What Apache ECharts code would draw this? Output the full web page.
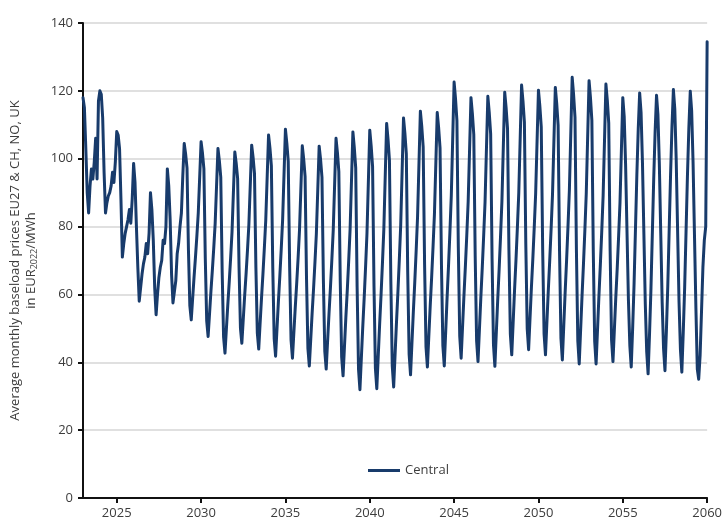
<!DOCTYPE html>
<html>
<head>
<meta charset="utf-8">
<script src="https://cdn.jsdelivr.net/npm/echarts@6/dist/echarts.min.js"></script>
<style>
  html, body { margin: 0; padding: 0; background: #fff; }
  #chart { width: 725px; height: 520px; }
</style>
</head>
<body>
<div id="chart"></div>
<script>
// Monthly series start (January of this year), one value per month
const startYear = 2023;
const seriesName = 'Central';
const central = [
  118, 115, 103, 90, 84, 92, 97, 94, 99, 106, 94, 117,            // 2023
  120, 119, 112, 96, 84, 87, 89, 90, 92, 96, 93, 99,              // 2024
  108, 107, 103, 88, 71, 75, 78, 80, 82, 85, 81, 88,              // 2025
  98.6, 93, 80, 68, 58, 62, 66, 69, 71, 75, 72, 78,               // 2026
  90, 85, 76, 62, 54, 60, 65, 68, 70, 76, 75, 80,                 // 2027
  97, 92, 82, 66, 57.5, 57, 64, 72, 75, 80, 84, 95,               // 2028
  104.5, 101.4, 97.2, 73.3, 56.7, 52.5, 58.8, 65.1, 70.9, 77.2, 84, 94.5, // 2029
  105, 101.6, 97, 70.6, 52.2, 47.6, 54.2, 60.9, 67, 73.6, 80.8, 91.9,     // 2030
  103, 99.4, 94.6, 66.8, 47.5, 42.7, 49.8, 56.9, 63.5, 70.6, 78.3, 90.1,  // 2031
  102, 98.6, 94.1, 68.2, 50.1, 45.6, 52.6, 59.6, 66, 73, 80.6, 92.3,      // 2032
  104, 100.4, 95.6, 67.9, 48.7, 43.9, 51.5, 59, 66, 73.6, 81.8, 94.4,     // 2033
  107, 103.1, 97.9, 67.9, 47, 41.8, 49.8, 57.9, 65.2, 73.2, 81.9, 95.3,   // 2034
  108.7, 104.6, 99.2, 68.2, 46.6, 41.2, 48.7, 56.2, 63.1, 70.6, 78.8, 91.3, // 2035
  103.8, 99.9, 94.7, 64.9, 44.1, 38.9, 46.7, 54.5, 61.6, 69.4, 77.8, 90.7,  // 2036
  103.7, 99.8, 94.5, 64.3, 43.3, 38, 46.2, 54.3, 61.8, 70, 78.8, 92.4,      // 2037
  106, 101.8, 96.2, 64, 41.6, 36, 44.6, 53.3, 61.2, 69.8, 79.1, 93.5,       // 2038
  107.9, 103.3, 97.3, 62.3, 38, 31.9, 41.1, 50.3, 58.7, 67.9, 77.8, 93.1,   // 2039
  108.4, 103.8, 97.7, 62.7, 38.3, 32.2, 41.6, 51, 59.6, 69, 79.1, 94.8,     // 2040
  110.4, 105.7, 99.5, 63.8, 38.9, 32.7, 42.2, 51.7, 60.5, 70, 80.3, 96.1,   // 2041
  112, 107.5, 101.4, 66.6, 42.4, 36.3, 45.6, 54.9, 63.5, 72.8, 82.9, 98.5,  // 2042
  114, 109.5, 103.4, 68.8, 44.6, 38.6, 47.6, 56.6, 64.9, 73.9, 83.6, 98.6,  // 2043
  113.6, 109.1, 103.1, 68.8, 44.9, 38.9, 48.9, 59, 68.2, 78.2, 89.1, 105.9, // 2044
  122.6, 117.7, 111.2, 73.8, 47.7, 41.2, 50.4, 59.6, 68.1, 77.3, 87.3, 102.6, // 2045
  118, 113.3, 107.1, 71.3, 46.4, 40.2, 49.6, 59, 67.6, 77, 87.1, 102.8,     // 2046
  118.4, 113.6, 107.3, 70.6, 45.2, 38.8, 48.5, 58.2, 67.1, 76.8, 87.3, 103.4, // 2047
  119.6, 115, 108.8, 73.2, 48.4, 42.2, 51.7, 61.3, 70, 79.6, 89.9, 105.8,   // 2048
  121.7, 117, 110.8, 74.9, 49.9, 43.7, 52.9, 62.1, 70.5, 79.7, 89.6, 104.9, // 2049
  120.2, 115.5, 109.3, 73.4, 48.4, 42.2, 51.7, 61.1, 69.8, 79.2, 89.5, 105.2, // 2050
  121, 116.2, 109.8, 72.8, 47.1, 40.7, 50.7, 60.7, 69.9, 79.9, 90.7, 107.3, // 2051
  124, 118.9, 112.2, 73.3, 46.3, 39.5, 49.5, 59.5, 68.7, 78.7, 89.6, 106.3, // 2052
  123, 118, 111.3, 72.9, 46.2, 39.5, 49.4, 59.3, 68.4, 78.3, 89, 105.5,     // 2053
  122, 117.1, 110.5, 72.9, 46.7, 40.2, 49.5, 58.9, 67.4, 76.8, 86.9, 102.4, // 2054
  118, 112.4, 98.1, 78.3, 58.5, 45, 38.6, 49.9, 62.8, 79, 95.2, 108.9,      // 2055
  119.4, 113.6, 98.7, 78, 57.3, 43.2, 36.6, 48.1, 61.2, 77.7, 94.1, 108,    // 2056
  118.7, 113, 98.4, 78.1, 57.8, 44, 37.5, 49.1, 62.4, 79, 95.5, 109.6,      // 2057
  120.4, 114.6, 99.6, 78.7, 57.9, 43.8, 37.1, 48.7, 61.9, 78.5, 95.1, 109.1, // 2058
  119.9, 114, 98.7, 77.4, 56.2, 38, 35, 42, 55, 68, 76, 80,                 // 2059
  134.5                                                                      // 2060 Jan
];
const xTickYears = [2025, 2030, 2035, 2040, 2045, 2050, 2055, 2060];
const yTicks = [0, 20, 40, 60, 80, 100, 120, 140];

const points = central.map((v, i) => [startYear + i / 12, v]);

const textColor = '#3d3d3d';
const fontFamily = '"Open Sans", "Noto Sans", sans-serif';

const chart = echarts.init(document.getElementById('chart'), null, { renderer: 'canvas' });
chart.setOption({
  animation: false,
  backgroundColor: '#ffffff',
  grid: { left: 83, right: 17, top: 23, bottom: 22, containLabel: false },
  legend: {
    data: [seriesName],
    left: 363,
    top: 459,
    icon: 'rect',
    itemWidth: 32,
    itemHeight: 3,
    itemGap: 10,
    textStyle: { fontFamily, fontSize: 13, color: textColor }
  },
  xAxis: {
    type: 'value',
    min: startYear,
    max: 2060,
    axisLine: { show: true, lineStyle: { color: '#111', width: 2 } },
    axisTick: { show: true, customValues: xTickYears, length: 5, lineStyle: { color: '#111', width: 2 } },
    axisLabel: { customValues: xTickYears, margin: 9, fontFamily, fontSize: 13, color: textColor,
      formatter: v => String(v) },
    splitLine: { show: false }
  },
  yAxis: {
    type: 'value',
    min: yTicks[0],
    max: yTicks[yTicks.length - 1],
    interval: 20,
    name: '{t|Average monthly baseload prices EU27 & CH, NO, UK}\n{t|in EUR}{s|2022}{t|/MWh}',
    nameLocation: 'middle',
    nameGap: 44,
    nameTextStyle: {
      fontFamily, fontSize: 13, color: textColor,
      rich: {
        t: { fontFamily, fontSize: 13, color: textColor, lineHeight: 16 },
        s: { fontFamily, fontSize: 9, color: textColor, lineHeight: 9, verticalAlign: 'bottom' }
      }
    },
    axisLine: { show: true, lineStyle: { color: '#111', width: 2 } },
    axisTick: { show: true, length: 5, lineStyle: { color: '#111', width: 2 } },
    axisLabel: { margin: 10, fontFamily, fontSize: 13, color: textColor },
    splitLine: { show: true, lineStyle: { color: '#d6d6d6', width: 1.5 } }
  },
  series: [{
    name: seriesName,
    type: 'line',
    data: points,
    showSymbol: false,
    symbol: 'none',
    smooth: false,
    lineStyle: { color: '#183b6b', width: 3, join: 'round', cap: 'round' },
    itemStyle: { color: '#183b6b' }
  }]
});
</script>
</body>
</html>
